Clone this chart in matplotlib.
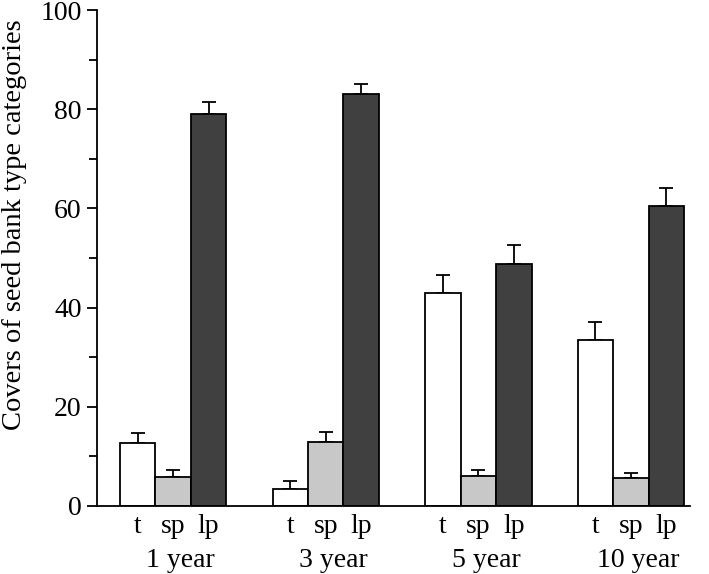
import numpy as np
import matplotlib.pyplot as plt
from matplotlib.ticker import MultipleLocator
from matplotlib.transforms import blended_transform_factory

plt.rcParams["font.family"] = ["Liberation Serif", "DejaVu Serif"]

groups = ["1 year", "3 year", "5 year", "10 year"]
types = ["t", "sp", "lp"]
t_mean = [12.7, 3.4, 43.0, 33.5]
t_err = [2.0, 1.6, 3.5, 3.5]
sp_mean = [5.8, 13.0, 6.0, 5.6]
sp_err = [1.5, 2.0, 1.3, 1.0]
lp_mean = [79.0, 83.0, 48.8, 60.5]
lp_err = [2.5, 2.0, 3.8, 3.6]

colors = ["white", "#c8c8c8", "#404040"]
means = [t_mean, sp_mean, lp_mean]
errs = [t_err, sp_err, lp_err]

fig = plt.figure(figsize=(7.09, 5.74), dpi=100)
ax = fig.add_axes([0.137, 0.1185, 0.836, 0.864])

x = np.arange(len(groups))
w = 0.2325
tick_pos = []
tick_lab = []
for k in range(3):
    pos = x + (k - 1) * w
    ax.bar(pos, means[k], width=w, color=colors[k], edgecolor="black",
           linewidth=1.3, zorder=2)
    ax.errorbar(pos, means[k], yerr=[np.zeros(len(groups)), errs[k]],
                fmt="none", ecolor="black", elinewidth=1.3, capsize=5,
                capthick=1.3, zorder=1)
    tick_pos += list(pos)
    tick_lab += [types[k]] * len(groups)

ax.set_xticks(tick_pos)
ax.set_xticklabels(tick_lab, fontsize=20)
ax.tick_params(axis="x", length=0, pad=6)

# group names sit a little right of the group centre in the original
trans = blended_transform_factory(ax.transData, ax.transAxes)
for i, g in enumerate(groups):
    ax.text(x[i] + 0.05, -0.11, g, transform=trans, ha="center", va="center",
            fontsize=20)

ax.set_xlim(-0.498, 3.386)
ax.set_ylim(0, 100)
ax.yaxis.set_major_locator(MultipleLocator(20))
ax.yaxis.set_minor_locator(MultipleLocator(10))
ax.tick_params(axis="y", which="major", length=7, width=1.3, labelsize=20,
               pad=4)
ax.tick_params(axis="y", which="minor", length=5.5, width=1.3)
ax.set_ylabel("Covers of seed bank type categories", fontsize=20.5)
ax.yaxis.set_label_coords(-0.118, 0.567)

for s in ["top", "right"]:
    ax.spines[s].set_visible(False)
for s in ["left", "bottom"]:
    ax.spines[s].set_linewidth(1.3)

fig.savefig("out.png", dpi=100)
